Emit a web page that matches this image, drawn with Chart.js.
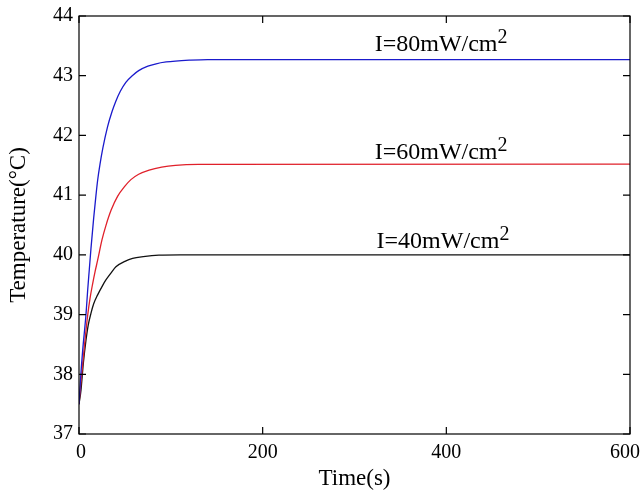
<!DOCTYPE html>
<html>
<head>
<meta charset="utf-8">
<script src="https://cdn.jsdelivr.net/npm/chart.js@4.4.1/dist/chart.umd.min.js"></script>
<style>
  html, body { margin: 0; padding: 0; background: #fff; }
  #wrap { width: 641px; height: 493px; position: relative; }
</style>
</head>
<body>
<div id="wrap"><canvas id="chart"></canvas></div>
<script>
// --- data ---
const timeBlue = [0, 2, 4, 7.6, 9.4, 11.2, 13, 16, 18.5, 20.3, 22.8, 26, 31, 36, 40, 45, 51, 58, 65, 75, 84, 95, 105, 120, 140, 600];
const tempBlue = [37.5, 38.0, 38.4, 39.0, 39.4, 39.75, 40.1, 40.62, 41.0, 41.25, 41.51, 41.79, 42.14, 42.40, 42.57, 42.74, 42.89, 43.0, 43.085, 43.16, 43.2, 43.23, 43.246, 43.26, 43.27, 43.27];

const timeRed = [0, 2, 5.8, 9.4, 12, 14.9, 17.5, 20.3, 25, 29.3, 35, 42, 50, 56.5, 65, 76.4, 90, 105, 130, 600];
const tempRed = [37.5, 37.85, 38.46, 38.98, 39.27, 39.52, 39.72, 39.91, 40.25, 40.49, 40.75, 40.98, 41.15, 41.26, 41.35, 41.42, 41.47, 41.50, 41.515, 41.52];

const timeBlack = [0, 2.2, 4.7, 7.6, 10, 13, 16, 20.3, 25.8, 29.3, 35, 40.2, 50, 58.4, 70, 87, 110, 600];
const tempBlack = [37.5, 37.74, 38.18, 38.57, 38.82, 39.02, 39.18, 39.33, 39.49, 39.58, 39.70, 39.80, 39.89, 39.94, 39.97, 39.995, 40.0, 40.0];

// curve labels and where they sit (data units: time, temperature of baseline)
const labelText = ['I=80mW/cm', 'I=60mW/cm', 'I=40mW/cm'];
const labelTime = [322, 322, 324];
const labelTemp = [43.41, 41.61, 40.12];

const xTicks = [0, 200, 400, 600];
const yTicks = [37, 38, 39, 40, 41, 42, 43, 44];

const SERIF = '"Liberation Serif", "Times New Roman", serif';

const toPoints = (ts, vs) => ts.map((t, i) => ({ x: t, y: vs[i] }));

// nudge first/last x labels so they stay inside the canvas (like matlab does)
const edgeLabels = {
    id: 'edgeLabels',
    beforeDraw(chart) {
        const items = chart.scales.x.getLabelItems();
        if (!items.length || items._nudged) return;
        items[0].options.translation[0] += 2;
        items[items.length - 1].options.translation[0] -= 5;
        items._nudged = true;
    }
};

// MATLAB-like box with inward ticks + curve labels
const boxPlugin = {
    id: 'box',
    afterDatasetsDraw(chart) {
        const ctx = chart.ctx;
        const a = chart.chartArea;
        const xs = chart.scales.x, ys = chart.scales.y;
        ctx.save();
        ctx.strokeStyle = '#000';
        ctx.lineWidth = 1.2;
        ctx.strokeRect(a.left, a.top, a.right - a.left, a.bottom - a.top);
        ctx.beginPath();
        xTicks.forEach(v => {
            const px = xs.getPixelForValue(v);
            ctx.moveTo(px, a.bottom); ctx.lineTo(px, a.bottom - 7);
            ctx.moveTo(px, a.top); ctx.lineTo(px, a.top + 7);
        });
        yTicks.forEach(v => {
            const py = ys.getPixelForValue(v);
            ctx.moveTo(a.left, py); ctx.lineTo(a.left + 7, py);
            ctx.moveTo(a.right, py); ctx.lineTo(a.right - 7, py);
        });
        ctx.stroke();

        // labels with superscript 2
        ctx.fillStyle = '#000';
        ctx.textBaseline = 'alphabetic';
        ctx.textAlign = 'left';
        labelText.forEach((txt, i) => {
            const px = xs.getPixelForValue(labelTime[i]);
            const py = ys.getPixelForValue(labelTemp[i]);
            ctx.font = '24px ' + SERIF;
            ctx.fillText(txt, px, py);
            const w = ctx.measureText(txt).width;
            ctx.font = '20px ' + SERIF;
            ctx.fillText('2', px + w, py - 8);
        });
        ctx.restore();
    }
};

const ctx = document.getElementById('chart').getContext('2d');
new Chart(ctx, {
    type: 'line',
    data: {
        datasets: [
            { data: toPoints(timeBlue, tempBlue), borderColor: '#1a1acc', borderWidth: 1.3 },
            { data: toPoints(timeRed, tempRed), borderColor: '#e0202a', borderWidth: 1.3 },
            { data: toPoints(timeBlack, tempBlack), borderColor: '#111', borderWidth: 1.3 }
        ]
    },
    options: {
        responsive: true,
        maintainAspectRatio: false,
        animation: false,
        parsing: false,
        elements: {
            point: { radius: 0 },
            line: { cubicInterpolationMode: 'monotone', fill: false }
        },
        layout: { padding: { top: 16, right: 11, left: 0, bottom: 0 } },
        plugins: { legend: { display: false }, tooltip: { enabled: false } },
        scales: {
            x: {
                type: 'linear',
                min: 0, max: 600,
                afterFit: s => { s.height = 59; s.paddingLeft = 0; s.paddingRight = 0; },
                afterBuildTicks: s => { s.ticks = xTicks.map(v => ({ value: v })); },
                grid: { display: false, drawTicks: false },
                border: { display: false },
                ticks: { color: '#000', padding: 7, font: { family: SERIF, size: 20 } },
                title: {
                    display: true, text: 'Time(s)', color: '#000',
                    font: { family: SERIF, size: 23 }, padding: { top: 0, bottom: 0 }
                }
            },
            y: {
                type: 'linear',
                min: 37, max: 44,
                afterFit: s => { s.width = 79; s.paddingTop = 0; s.paddingBottom = 0; },
                afterBuildTicks: s => { s.ticks = yTicks.map(v => ({ value: v })); },
                grid: { display: false, drawTicks: false },
                border: { display: false },
                ticks: { color: '#000', padding: 6, font: { family: SERIF, size: 20 } },
                title: {
                    display: true, text: 'Temperature(°C)', color: '#000',
                    font: { family: SERIF, size: 23 }, padding: { top: 5, bottom: 0 }
                }
            }
        }
    },
    plugins: [edgeLabels, boxPlugin]
});
</script>
</body>
</html>
